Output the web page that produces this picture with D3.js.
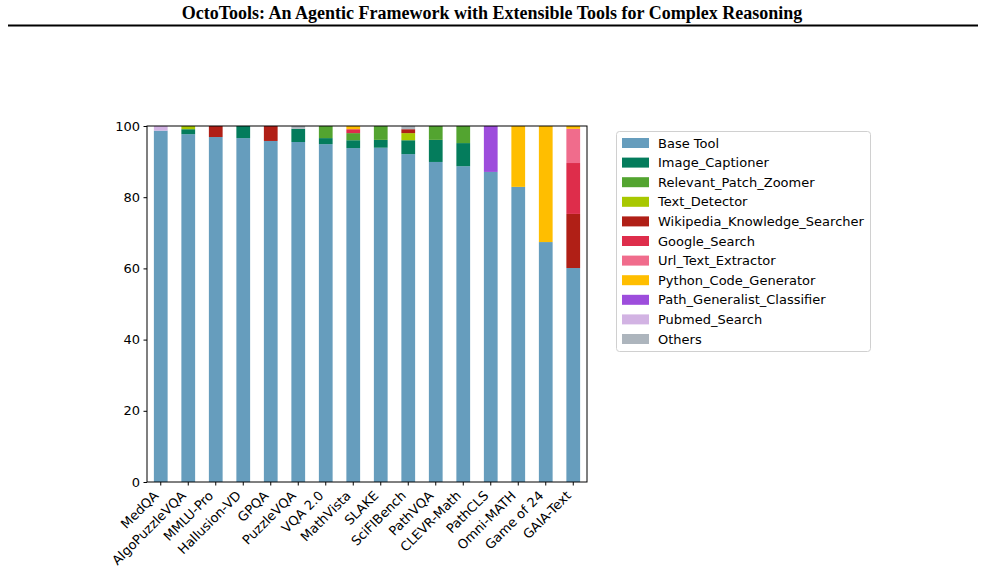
<!DOCTYPE html>
<html>
<head>
<meta charset="utf-8">
<script src="https://cdn.jsdelivr.net/npm/d3@7"></script>
<style>
  body { margin: 0; background: #fff; }
  svg { display: block; font-family: "DejaVu Sans", sans-serif; }
  .tick text { font-family: "DejaVu Sans", sans-serif; }
</style>
</head>
<body>
<svg id="chart" width="985" height="573"></svg>
<script>
// Benchmarks on the x axis
const benchmarks = ["MedQA", "AlgoPuzzleVQA", "MMLU-Pro", "Hallusion-VD", "GPQA", "PuzzleVQA",
  "VQA 2.0", "MathVista", "SLAKE", "SciFIBench", "PathVQA", "CLEVR-Math", "PathCLS",
  "Omni-MATH", "Game of 24", "GAIA-Text"];

// Tools, stacked bottom to top
const tools = ["Base Tool", "Image_Captioner", "Relevant_Patch_Zoomer", "Text_Detector",
  "Wikipedia_Knowledge_Searcher", "Google_Search", "Url_Text_Extractor",
  "Python_Code_Generator", "Path_Generalist_Classifier", "Pubmed_Search", "Others"];

const toolColors = ["#669dbd", "#047c5c", "#53a430", "#a8c800", "#b01f16", "#de2d4b",
  "#f06c8c", "#ffbe00", "#9d4ddc", "#d2b3e3", "#adb5bd"];

// usage share (%) of each tool, one value per benchmark
const baseTool =      [98.7, 97.7, 96.9, 96.6, 95.8, 95.5, 94.9, 93.8, 93.9, 92.1, 89.9, 88.7, 87.1, 82.9, 67.4, 60.1];
const imageCaption =  [0, 1.4, 0, 3.4, 0, 3.7, 1.7, 2.2, 2.2, 3.9, 6.2, 6.5, 0, 0, 0, 0];
const patchZoomer =   [0, 0, 0, 0, 0, 0, 3.4, 2.0, 3.9, 0, 3.9, 4.8, 0, 0, 0, 0];
const textDetector =  [0, 0.9, 0, 0, 0, 0, 0, 0, 0, 2.0, 0, 0, 0, 0, 0, 0];
const wikiSearch =    [0, 0, 3.1, 0, 4.2, 0, 0, 0, 0, 1.1, 0, 0, 0, 0, 0, 15.2];
const googleSearch =  [0, 0, 0, 0, 0, 0, 0, 1.1, 0, 0, 0, 0, 0, 0, 0, 14.3];
const urlExtractor =  [0, 0, 0, 0, 0, 0, 0, 0, 0, 0, 0, 0, 0, 0, 0, 9.6];
const pythonCode =    [0, 0, 0, 0, 0, 0, 0, 0.9, 0, 0, 0, 0, 0, 17.1, 32.6, 0.8];
const pathClassifier = [0, 0, 0, 0, 0, 0, 0, 0, 0, 0, 0, 0, 12.9, 0, 0, 0];
const pubmedSearch =  [1.3, 0, 0, 0, 0, 0, 0, 0, 0, 0, 0, 0, 0, 0, 0, 0];
const others =        [0, 0, 0, 0, 0, 0.8, 0, 0, 0, 0.9, 0, 0, 0, 0, 0, 0];

const yTicks = [0, 20, 40, 60, 80, 100];

const series = [baseTool, imageCaption, patchZoomer, textDetector, wikiSearch, googleSearch,
  urlExtractor, pythonCode, pathClassifier, pubmedSearch, others];

// build rows for d3.stack
const rows = benchmarks.map((b, i) => {
  const row = { benchmark: b };
  tools.forEach((t, k) => { row[t] = series[k][i]; });
  return row;
});

const svg = d3.select("#chart");

// title and rule under it
svg.append("text")
  .attr("x", 492).attr("y", 19)
  .attr("text-anchor", "middle")
  .style("font-family", "'Liberation Serif', 'Times New Roman', serif")
  .style("font-weight", "bold")
  .style("font-size", "18px")
  .text("OctoTools: An Agentic Framework with Extensible Tools for Complex Reasoning");

svg.append("line")
  .attr("x1", 8).attr("x2", 978)
  .attr("y1", 25.5).attr("y2", 25.5)
  .attr("stroke", "#000").attr("stroke-width", 2);

const margin = { left: 147, right: 587, top: 126, bottom: 482 };

const x = d3.scaleBand()
  .domain(benchmarks)
  .range([margin.left, margin.right])
  .paddingInner(0.5)
  .paddingOuter(0.25);

const y = d3.scaleLinear()
  .domain([0, 100])
  .range([margin.bottom, margin.top]);

const stacked = d3.stack().keys(tools)(rows);

const g = svg.append("g");
g.selectAll("g.layer")
  .data(stacked)
  .join("g")
  .attr("class", "layer")
  .attr("fill", (d, i) => toolColors[i])
  .selectAll("rect")
  .data(d => d)
  .join("rect")
  .attr("x", d => x(d.data.benchmark))
  .attr("width", x.bandwidth())
  .attr("y", d => y(d[1]))
  .attr("height", d => Math.max(0, y(d[0]) - y(d[1])));

// axes
const yAxis = d3.axisLeft(y).tickValues(yTicks).tickSize(3.5).tickPadding(3.5);
const yg = svg.append("g").attr("transform", `translate(${margin.left},0)`).call(yAxis);
yg.attr("font-family", null).attr("font-size", null);
yg.select(".domain").remove();
yg.selectAll("text").style("font-size", "13px").attr("fill", "#000");

const xAxis = d3.axisBottom(x).tickSize(3.5).tickPadding(2);
const xg = svg.append("g").attr("transform", `translate(0,${margin.bottom})`).call(xAxis);
xg.attr("font-family", null).attr("font-size", null);
xg.select(".domain").remove();
// rotated labels: top-right corner of each label sits just under its tick
xg.selectAll("text")
  .style("font-size", "13px")
  .attr("fill", "#000")
  .attr("text-anchor", "end")
  .attr("x", 0).attr("y", 0).attr("dy", 0)
  .attr("transform", "translate(-1.5,14.5) rotate(-45)");

// frame
svg.append("rect")
  .attr("x", margin.left).attr("y", margin.top)
  .attr("width", margin.right - margin.left)
  .attr("height", margin.bottom - margin.top)
  .attr("fill", "none").attr("stroke", "#000").attr("stroke-width", 1);

// legend
const lg = svg.append("g").attr("transform", "translate(616,131)");
lg.append("rect")
  .attr("x", 0.5).attr("y", 0.5).attr("width", 254).attr("height", 220).attr("rx", 3)
  .attr("fill", "#fff").attr("stroke", "#d0d0d0");
const item = lg.selectAll("g.item").data(tools).join("g")
  .attr("class", "item")
  .attr("transform", (d, i) => `translate(6,${12 + i * 19.6})`);
item.append("rect")
  .attr("x", 0).attr("y", -5).attr("width", 27).attr("height", 10)
  .attr("fill", (d, i) => toolColors[i]);
item.append("text")
  .attr("x", 36).attr("y", 0).attr("dy", "0.35em")
  .style("font-size", "13px")
  .text(d => d);
</script>
</body>
</html>
